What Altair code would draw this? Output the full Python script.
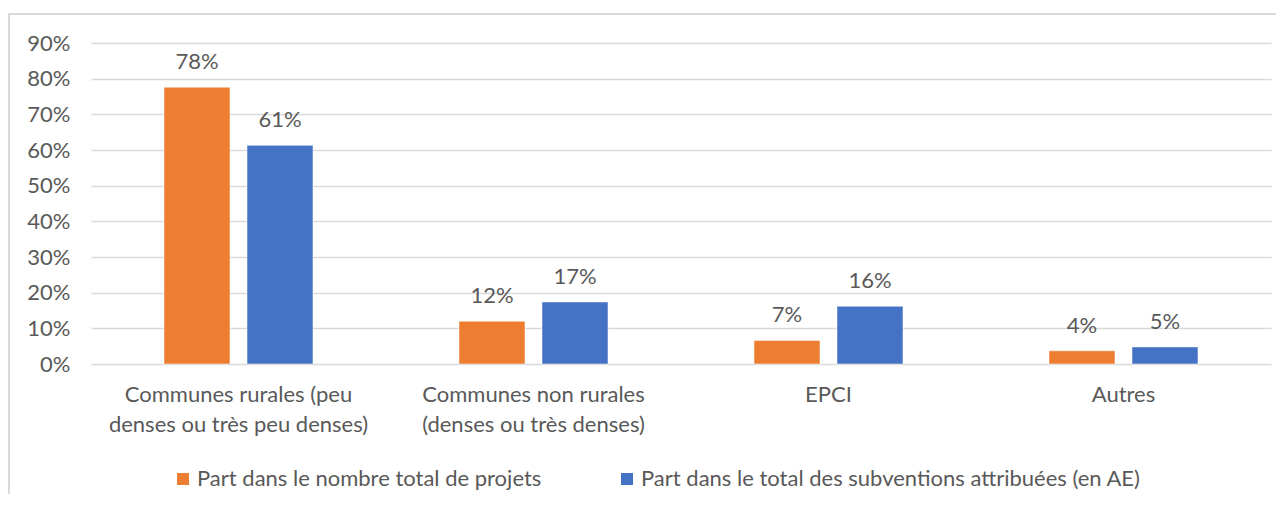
import altair as alt
import pandas as pd

categories = [
    "Communes rurales (peu\ndenses ou très peu denses)",
    "Communes non rurales\n(denses ou très denses)",
    "EPCI",
    "Autres",
]
series = [
    "Part dans le nombre total de projets",
    "Part dans le total des subventions attribuées (en AE)",
]
projets = [0.776, 0.120, 0.066, 0.037]
subventions = [0.613, 0.174, 0.162, 0.048]
y_ticks = [0, 0.1, 0.2, 0.3, 0.4, 0.5, 0.6, 0.7, 0.8, 0.9]
colors = ["#ED7D31", "#4472C4"]

rows = []
for i, c in enumerate(categories):
    rows.append({"cat": c, "serie": series[0], "val": projets[i]})
    rows.append({"cat": c, "serie": series[1], "val": subventions[i]})
df = pd.DataFrame(rows)

FONT = "Lato"
FS = 22
GRAY = "#595959"

x = alt.X(
    "cat:N",
    sort=categories,
    title=None,
    scale=alt.Scale(paddingInner=0.495, paddingOuter=0.2475),
    axis=alt.Axis(
        labelExpr="split(datum.label, '\\n')",
        labelAngle=0,
        labelFont=FONT,
        labelFontSize=FS,
        labelColor=GRAY,
        labelLineHeight=30,
        labelPadding=20,
        labelLimit=0,
        labelOverlap=False,
        ticks=False,
        domain=False,
        grid=False,
    ),
)
y = alt.Y(
    "val:Q",
    title=None,
    scale=alt.Scale(domain=[0, 0.9], nice=False),
    axis=alt.Axis(
        format=".0%",
        values=y_ticks,
        labelFont=FONT,
        labelFontSize=FS,
        labelColor=GRAY,
        labelPadding=21,
        labelOverlap=False,
        labelFlush=False,
        ticks=False,
        domain=False,
        gridColor="#D9D9D9",
        gridWidth=1.5,
    ),
)
color = alt.Color(
    "serie:N",
    sort=series,
    scale=alt.Scale(domain=series, range=colors),
    legend=alt.Legend(
        title=None,
        orient="none",
        direction="horizontal",
        legendX=81,
        legendY=425,
        symbolType="square",
        symbolSize=144,
        symbolStrokeWidth=0,
        symbolOpacity=1,
        labelFont=FONT,
        labelFontSize=FS,
        labelColor=GRAY,
        labelOffset=3,
        labelLimit=0,
        columnPadding=74,
    ),
)
xoff = alt.XOffset("serie:N", sort=series, scale=alt.Scale(paddingInner=0.205, paddingOuter=0))

base = alt.Chart(df).encode(x=x, xOffset=xoff, y=y)
bars = base.mark_bar(stroke="white", strokeWidth=0.5).encode(color=color)
labels = base.mark_text(
    font=FONT, fontSize=FS, color=GRAY, baseline="alphabetic", dy=-18
).encode(text=alt.Text("val:Q", format=".0%"))

frame = alt.Chart(pd.DataFrame({"k": [0]})).mark_rect(
    fill="transparent", stroke="#D9D9D9", strokeWidth=2
).encode(x=alt.value(-82), x2=alt.value(1300), y=alt.value(-29), y2=alt.value(600))

chart = alt.layer(bars, labels, frame).properties(
    width=1180,
    height=321,
    autosize=alt.AutoSizeParams(type="none"),
    padding={"left": 83, "top": 35, "right": 5, "bottom": 130},
    background="white",
).configure_view(stroke=None)

chart.save("out.html", embed_options={"renderer": "svg", "actions": False})
